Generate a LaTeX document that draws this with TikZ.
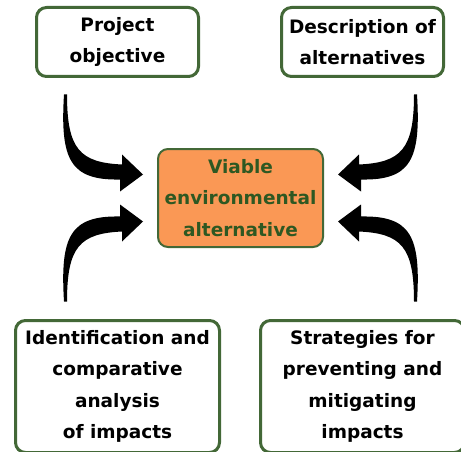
\documentclass[tikz,border=0pt]{standalone}
\usepackage{fontspec}
\setmainfont{DejaVu Sans}

\definecolor{boxgreen}{RGB}{67,104,55}
\definecolor{textgreen}{RGB}{46,88,34}
\definecolor{altorange}{RGB}{250,152,85}

% one tapered arrow, drawn around the centre of the middle box
\newcommand\swoosh{%
  \fill (-176.5,-103.5) .. controls (-180.5,-38.5) and (-170.5,-17.5) .. (-120.5,-18.5)
    -- (-120.5,-6.5) -- (-97.5,-23.5) -- (-118.5,-43.5) -- (-118.5,-33.5)
    .. controls (-160.5,-35.5) and (-173.5,-48.5) .. (-173.5,-103.5) -- cycle;}

\begin{document}
\begin{tikzpicture}[x=1pt,y=-1pt,
    box/.style={draw=boxgreen, line width=3pt, rounded corners=10pt, fill=white,
      align=center, inner sep=0pt, font=\bfseries\fontsize{18.5}{31.5}\selectfont},
    altbox/.style={box, line width=2pt, fill=altorange, text=textgreen}]
  \clip (0,0) rectangle (461,452);

  \node[box, minimum width=162pt, minimum height=69pt] (obj) at (117.5,42) {Project\\objective};
  \node[box, minimum width=162pt, minimum height=69pt] (desc) at (362.5,42) {Description of\\alternatives};
  \node[altbox, minimum width=165pt, minimum height=98pt] (alt) at (240.5,198) {Viable\\environmental\\alternative};
  \node[box, minimum width=204pt, minimum height=132pt] (ident) at (117.5,386.5)
    {Identification and\\comparative\\analysis\\of impacts};
  \node[box, minimum width=204pt, minimum height=132pt] (strat) at (362.5,386.5)
    {Strategies for\\preventing and\\mitigating\\impacts};

  % four arrows, mirrored about the middle box
  \foreach \sx/\sy in {1/1,-1/1,1/-1,-1/-1} {
    \begin{scope}[shift={(alt.center)}, xscale=\sx, yscale=\sy]
      \swoosh
    \end{scope}
  }
\end{tikzpicture}
\end{document}
